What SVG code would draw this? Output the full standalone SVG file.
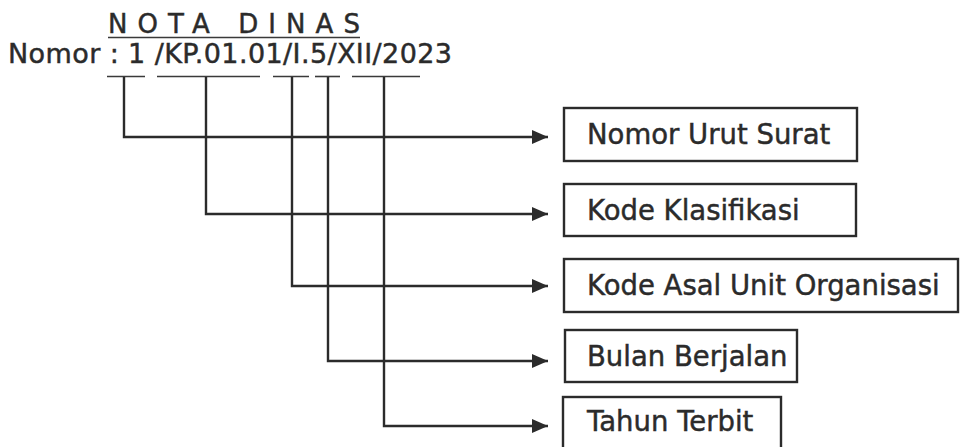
<svg xmlns="http://www.w3.org/2000/svg" width="962" height="447" viewBox="0 0 962 447">
<defs>
<style>
.t{font-family:"DejaVu Sans","Liberation Sans",sans-serif;fill:#2b2b2b;stroke:#2b2b2b;stroke-width:0.45}
.box{fill:#fff;stroke:#2b2b2b;stroke-width:2.4}
.ln{fill:none;stroke:#2b2b2b;stroke-width:2.4}
.ul{stroke:#3a3a3a;stroke-width:1.6}
</style>
<marker id="ah" markerWidth="16" markerHeight="14" refX="16" refY="7" orient="auto" markerUnits="userSpaceOnUse">
<path d="M0,0 L16,7 L0,14 Z" fill="#2b2b2b"/>
</marker>
</defs>
<rect width="962" height="447" fill="#fff"/>
<g id="header">
<text class="t" x="108" y="33" font-size="26" textLength="252" lengthAdjust="spacing">NOTA DINAS</text>
<line class="ul" x1="108" y1="37.5" x2="360" y2="37.5"/>
<text class="t" x="8" y="63" font-size="27" textLength="444" lengthAdjust="spacing">Nomor : 1 /KP.01.01/I.5/XII/2023</text>
<line class="ul" x1="107" y1="76.5" x2="145" y2="76.5"/>
<line class="ul" x1="157" y1="76.5" x2="260" y2="76.5"/>
<line class="ul" x1="273" y1="76.5" x2="309" y2="76.5"/>
<line class="ul" x1="315" y1="76.5" x2="340" y2="76.5"/>
<line class="ul" x1="352" y1="76.5" x2="420" y2="76.5"/>
</g>
<g id="connectors">
<path class="ln" d="M124,77 V137 H548" marker-end="url(#ah)"/>
<path class="ln" d="M206,77 V214 H548" marker-end="url(#ah)"/>
<path class="ln" d="M292,77 V286 H548" marker-end="url(#ah)"/>
<path class="ln" d="M328,77 V361 H548" marker-end="url(#ah)"/>
<path class="ln" d="M384,77 V426 H548" marker-end="url(#ah)"/>
</g>
<g id="n1">
<rect class="box" x="564" y="108" width="293" height="53"/>
<text class="t" x="587" y="144" font-size="27.5">Nomor Urut Surat</text>
</g>
<g id="n2">
<rect class="box" x="564" y="184" width="292" height="52"/>
<text class="t" x="587" y="220" font-size="27.5">Kode Klasifikasi</text>
</g>
<g id="n3">
<rect class="box" x="564" y="259" width="394" height="53"/>
<text class="t" x="587" y="295" font-size="27.5">Kode Asal Unit Organisasi</text>
</g>
<g id="n4">
<rect class="box" x="565" y="330" width="232" height="52"/>
<text class="t" x="587" y="366" font-size="27.5">Bulan Berjalan</text>
</g>
<g id="n5">
<rect class="box" x="563" y="397" width="218" height="60"/>
<text class="t" x="587" y="431" font-size="27.5">Tahun Terbit</text>
</g>
</svg>
